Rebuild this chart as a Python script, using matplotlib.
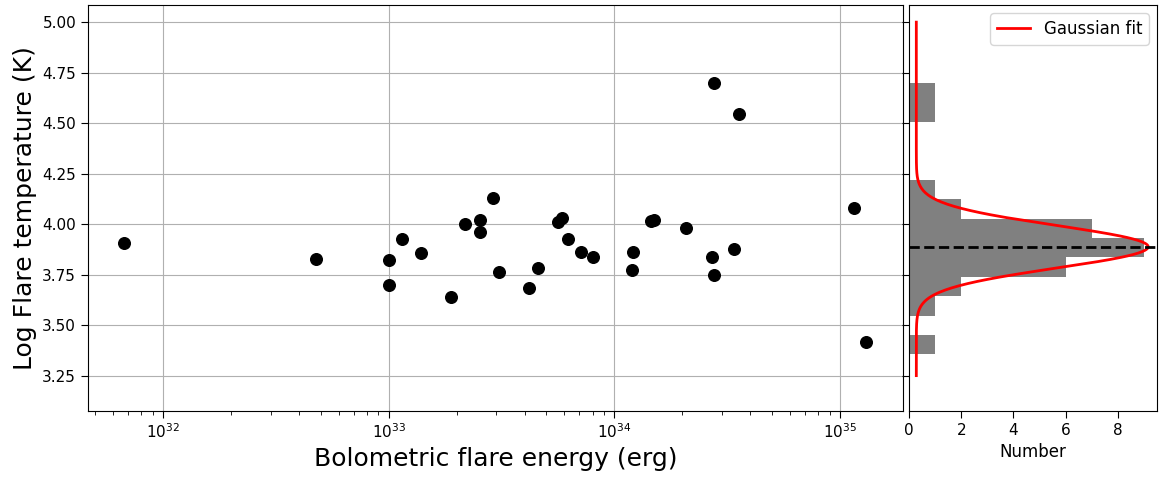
import numpy as np
import matplotlib.pyplot as plt

# Flare sample: bolometric energy (erg) and log temperature (K)
energy = [6.7e31, 4.77e32, 1.0e33, 1.0e33, 1.15e33, 1.39e33, 1.89e33,
          2.18e33, 2.55e33, 2.55e33, 2.91e33, 3.08e33, 4.18e33, 4.60e33,
          5.62e33, 5.86e33, 6.21e33, 7.14e33, 8.0e33, 1.21e34, 1.20e34,
          1.46e34, 1.50e34, 2.08e34, 2.71e34, 2.76e34, 3.39e34, 1.15e35,
          1.30e35, 2.76e34, 3.56e34]
log_temp = [3.906, 3.827, 3.822, 3.700, 3.926, 3.857, 3.638,
            4.000, 4.020, 3.962, 4.130, 3.763, 3.682, 3.784,
            4.011, 4.030, 3.928, 3.863, 3.838, 3.863, 3.771,
            4.015, 4.022, 3.980, 3.838, 3.746, 3.875, 4.081,
            3.415, 4.697, 4.544]

# histogram binning
bin_start = 3.356
bin_width = 0.0958
n_bins = 14

# Gaussian fit (amplitude, mean, sigma, offset)
g_amp = 8.88
g_mu = 3.888
g_sigma = 0.105
g_off = 0.28

fig = plt.figure(figsize=(11.59, 4.79), dpi=100)
ax = fig.add_axes([0.0759, 0.1420, 0.7032, 0.8476])
axh = fig.add_axes([0.7843, 0.1420, 0.2140, 0.8476], sharey=ax)

ax.scatter(energy, log_temp, s=70, c='k', zorder=3)
ax.set_xscale('log')
ax.set_xlim(4.65e31, 1.9e35)
ax.set_ylim(3.075, 5.085)
ax.set_yticks(np.arange(3.25, 5.01, 0.25))
ax.yaxis.set_major_formatter(plt.FormatStrFormatter('%.2f'))
ax.tick_params(labelsize=11, length=5)
ax.tick_params(which='minor', length=3)
ax.grid(True, which='major')
ax.set_axisbelow(True)
ax.set_xlabel('Bolometric flare energy (erg)', fontsize=18)
ax.set_ylabel('Log Flare temperature (K)', fontsize=18)

edges = bin_start + bin_width * np.arange(n_bins + 1)
axh.hist(log_temp, bins=edges, orientation='horizontal', color='gray')
t = np.linspace(3.25, 5.0, 500)
fit = g_amp * np.exp(-(t - g_mu)**2 / (2 * g_sigma**2)) + g_off
axh.plot(fit, t, 'r-', lw=2, label='Gaussian fit')
axh.axhline(g_mu, color='k', ls='--', lw=2)
axh.set_xlim(0, 9.5)
axh.set_xticks([0, 2, 4, 6, 8])
axh.tick_params(labelsize=11, length=5)
axh.set_xlabel('Number', fontsize=12)
axh.tick_params(axis='y', labelleft=False)
axh.legend(loc='upper right', fontsize=12)

plt.savefig('out.png', dpi=100)
